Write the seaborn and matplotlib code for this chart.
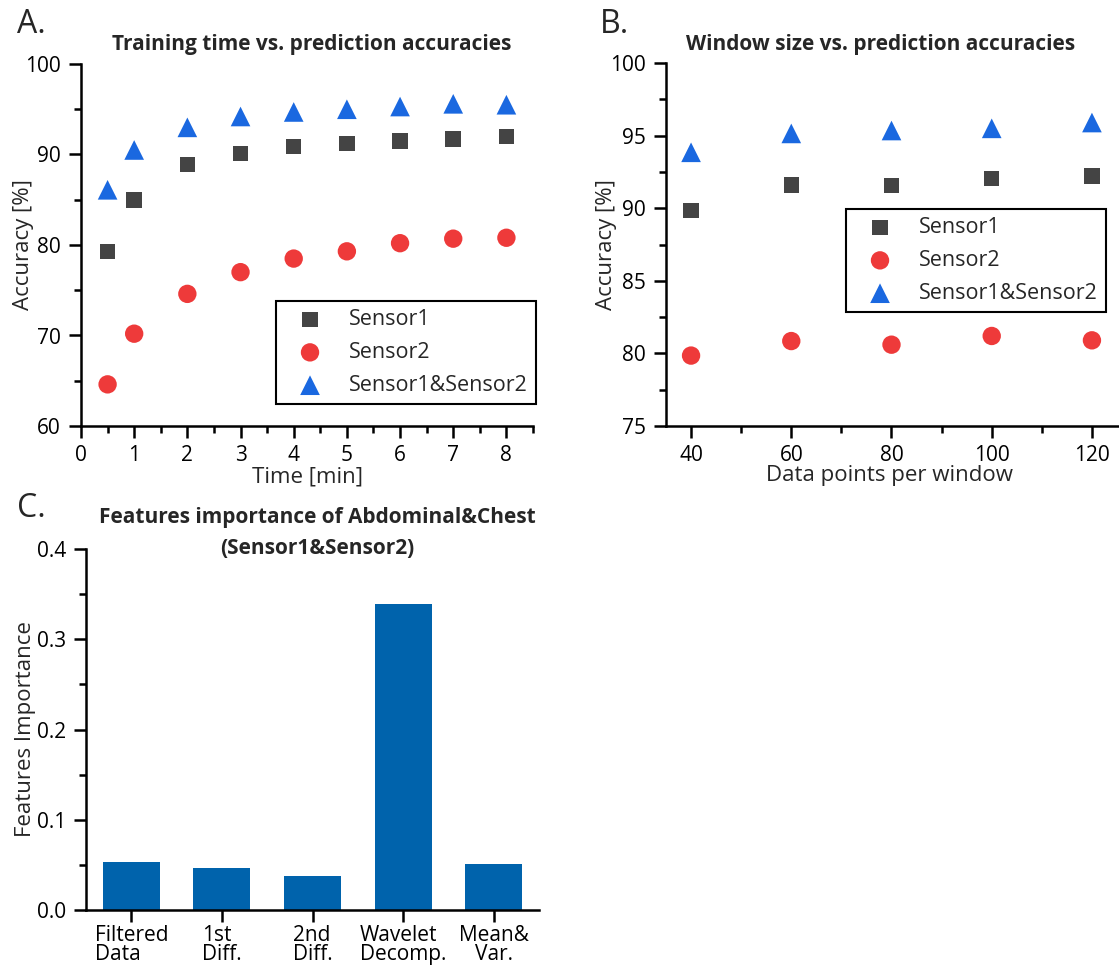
import matplotlib
matplotlib.use("Agg")
import matplotlib.pyplot as plt
from matplotlib.ticker import MultipleLocator, FormatStrFormatter
import seaborn as sns
import pandas as pd

# ---- data -------------------------------------------------------------
time_min = [0.5, 1, 2, 3, 4, 5, 6, 7, 8]
time_sensor1 = [79.3, 85.0, 88.9, 90.1, 90.9, 91.2, 91.5, 91.7, 92.0]
time_sensor2 = [64.6, 70.2, 74.6, 77.0, 78.5, 79.3, 80.2, 80.7, 80.8]
time_both = [86.1, 90.5, 93.0, 94.2, 94.7, 95.0, 95.3, 95.6, 95.5]

window_pts = [40, 60, 80, 100, 120]
win_sensor1 = [89.85, 91.6, 91.55, 92.05, 92.2]
win_sensor2 = [79.85, 80.85, 80.6, 81.2, 80.9]
win_both = [93.85, 95.15, 95.35, 95.5, 95.9]

features = ["Filtered\nData", "1st\nDiff.", "2nd\nDiff.", "Wavelet\nDecomp.", "Mean&\nVar."]
importance = [0.053, 0.047, 0.038, 0.339, 0.051]

series_names = ["Sensor1", "Sensor2", "Sensor1&Sensor2"]

# ---- style ------------------------------------------------------------
sns.set_style("ticks")
plt.rcParams["font.family"] = ["Open Sans", "DejaVu Sans"]
plt.rcParams["axes.linewidth"] = 1.8
plt.rcParams["axes.edgecolor"] = "black"
for a in ("xtick", "ytick"):
    plt.rcParams[f"{a}.major.width"] = 1.8
    plt.rcParams[f"{a}.minor.width"] = 1.8
    plt.rcParams[f"{a}.major.size"] = 8.5
    plt.rcParams[f"{a}.minor.size"] = 5
    plt.rcParams[f"{a}.color"] = "black"
    plt.rcParams[f"{a}.labelcolor"] = "black"

GRAY = "#444444"
RED = "#EE3A3A"
BLUE = "#1A68E0"
BAR = "#0063AC"

TICK_FS = 15
LABEL_FS = 16
LEGEND_FS = 15.5
TITLE_FS = 15
PANEL_FS = 23

W, H = 1119, 972
fig = plt.figure(figsize=(W / 100, H / 100), dpi=100)


def rect(x0, y0, x1, y1):
    """Axes rectangle from pixel corners (top-left origin)."""
    return [x0 / W, 1 - y1 / H, (x1 - x0) / W, (y1 - y0) / H]


def fpos(x, y):
    """Figure fraction from pixel position (top-left origin)."""
    return (x / W, 1 - y / H)


styles = [
    dict(color=GRAY, marker="s", s=125),
    dict(color=RED, marker="o", s=175),
    dict(color=BLUE, marker="^", s=200),
]


def scatter_panel(ax, x, ys):
    for name, y, st in zip(series_names, ys, styles):
        df = pd.DataFrame({"x": x, "y": y})
        sns.scatterplot(data=df, x="x", y="y", ax=ax, color=st["color"],
                        marker=st["marker"], s=st["s"], edgecolor="none",
                        linewidth=0, label=name, clip_on=False, zorder=3)
    for side in ("top", "right"):
        ax.spines[side].set_visible(False)
    ax.tick_params(axis="both", which="both", direction="out", labelsize=TICK_FS)
    ax.tick_params(axis="x", pad=5)
    ax.tick_params(axis="y", pad=6)


def panel_legend(ax, x0, y0):
    leg = ax.legend(loc="upper left", bbox_to_anchor=fpos(x0, y0),
                    bbox_transform=fig.transFigure, borderaxespad=0,
                    fontsize=LEGEND_FS, frameon=True, fancybox=False,
                    shadow=False, handletextpad=0.6, labelspacing=0.55,
                    borderpad=0.38, handlelength=2.4)
    fr = leg.get_frame()
    fr.set_edgecolor("black")
    fr.set_linewidth(1.5)
    fr.set_alpha(1)
    return leg


# ---- panel A ----------------------------------------------------------
axA = fig.add_axes(rect(81, 64, 533, 426))
scatter_panel(axA, time_min, [time_sensor1, time_sensor2, time_both])
axA.set_xlim(0, 8.5)
axA.set_ylim(60, 100)
axA.xaxis.set_major_locator(MultipleLocator(1))
axA.xaxis.set_minor_locator(MultipleLocator(0.5))
axA.yaxis.set_major_locator(MultipleLocator(10))
axA.yaxis.set_minor_locator(MultipleLocator(5))
axA.set_xlabel("Time [min]", fontsize=LABEL_FS)
axA.set_ylabel("Accuracy [%]", fontsize=LABEL_FS)
axA.xaxis.set_label_coords(*fpos(307, 466), transform=fig.transFigure)
axA.yaxis.set_label_coords(*fpos(34, 245), transform=fig.transFigure)
panel_legend(axA, 276, 301)
fig.text(*fpos(312, 50), "Training time vs. prediction accuracies",
         ha="center", va="baseline", fontsize=TITLE_FS, fontweight="bold")
fig.text(*fpos(17, 33), "A.", ha="left", va="baseline", fontsize=PANEL_FS)

# ---- panel B ----------------------------------------------------------
axB = fig.add_axes(rect(666, 63, 1119, 426))
scatter_panel(axB, window_pts, [win_sensor1, win_sensor2, win_both])
axB.set_xlim(35, 125.4)
axB.set_ylim(75, 100)
axB.xaxis.set_major_locator(MultipleLocator(20))
axB.xaxis.set_minor_locator(MultipleLocator(10))
axB.yaxis.set_major_locator(MultipleLocator(5))
axB.yaxis.set_minor_locator(MultipleLocator(2.5))
axB.set_xlabel("Data points per window", fontsize=LABEL_FS)
axB.set_ylabel("Accuracy [%]", fontsize=LABEL_FS)
axB.xaxis.set_label_coords(*fpos(890, 465), transform=fig.transFigure)
axB.yaxis.set_label_coords(*fpos(617, 245), transform=fig.transFigure)
panel_legend(axB, 846, 209)
fig.text(*fpos(881, 50), "Window size vs. prediction accuracies",
         ha="center", va="baseline", fontsize=TITLE_FS, fontweight="bold")
fig.text(*fpos(600, 33), "B.", ha="left", va="baseline", fontsize=PANEL_FS)

# ---- panel C ----------------------------------------------------------
axC = fig.add_axes(rect(86, 549, 539, 910))
dfC = pd.DataFrame({"feature": features, "importance": importance})
sns.barplot(data=dfC, x="feature", y="importance", ax=axC, color=BAR,
            saturation=1, width=0.63, edgecolor="none", linewidth=0)
for side in ("top", "right"):
    axC.spines[side].set_visible(False)
axC.set_xlim(-0.5, 4.5)
axC.set_ylim(0, 0.4)
axC.yaxis.set_major_locator(MultipleLocator(0.1))
axC.yaxis.set_minor_locator(MultipleLocator(0.05))
axC.yaxis.set_major_formatter(FormatStrFormatter("%.1f"))
axC.tick_params(axis="both", which="both", direction="out", labelsize=TICK_FS)
axC.tick_params(axis="x", pad=2)
axC.tick_params(axis="y", pad=6)
for i, lab in enumerate(axC.get_xticklabels()):
    lab.set_linespacing(0.9)
    lab.set_multialignment("center" if i == 4 else "left")
axC.set_xlabel("")
axC.set_ylabel("Features Importance", fontsize=LABEL_FS)
axC.yaxis.set_label_coords(*fpos(36, 729), transform=fig.transFigure)
fig.text(*fpos(317, 523), "Features importance of Abdominal&Chest",
         ha="center", va="baseline", fontsize=TITLE_FS, fontweight="bold")
fig.text(*fpos(317, 554), "(Sensor1&Sensor2)",
         ha="center", va="baseline", fontsize=TITLE_FS, fontweight="bold")
fig.text(*fpos(17, 517), "C.", ha="left", va="baseline", fontsize=PANEL_FS)

fig.savefig("out.png", dpi=100)
